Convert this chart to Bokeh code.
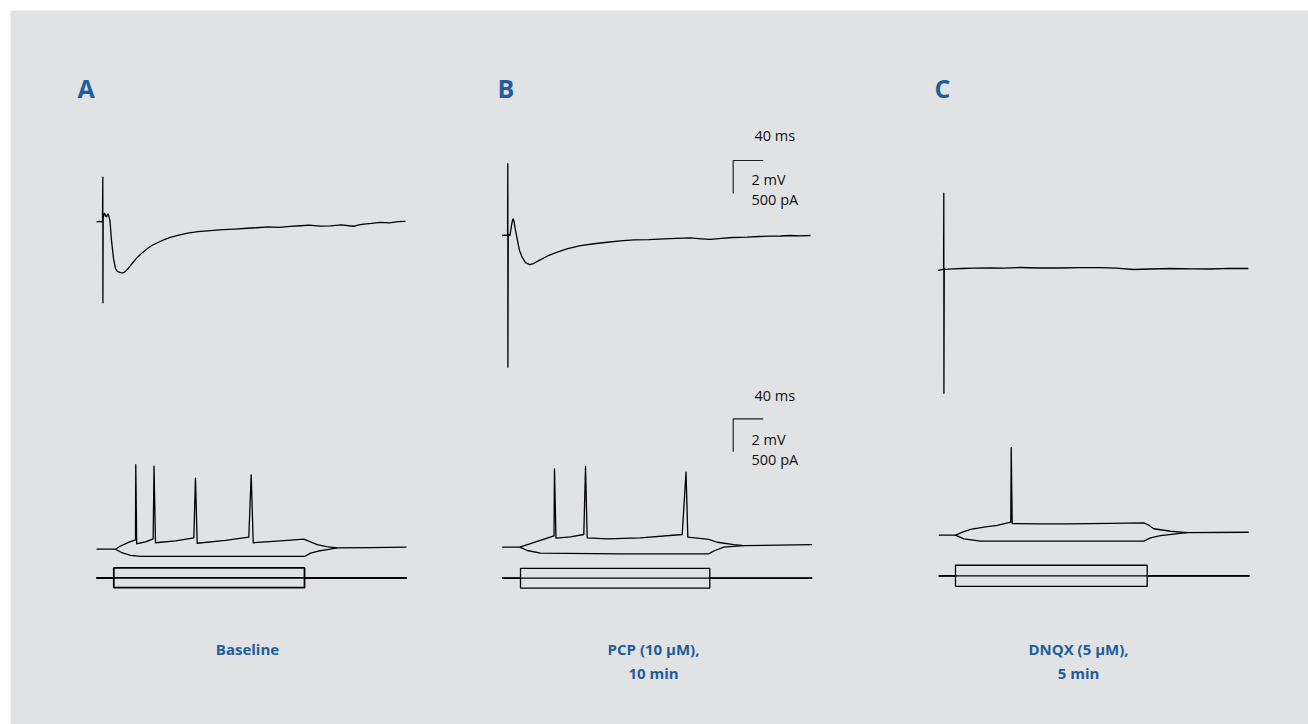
from bokeh.plotting import figure
from bokeh.models import Range1d
from bokeh.embed import file_html
from bokeh.resources import INLINE
from bokeh.core.properties import value

# ---------------- data (time in ms, potential in mV, current in pA) ----------------
# Evoked field responses (upper traces)
A_up_t = [-8.4, -4, -1.2, -0.4, 0.0, 0.15, 0.5, 1.5, 2.5, 3.8, 5.0, 6.2, 7.2, 8.3, 9.6, 11.6, 14.3, 16.9, 19.0, 20.9,
          23.5, 26.3, 28.5, 30.3, 33.5, 36.9, 41, 46, 52, 59.6, 66, 74.3, 82, 90, 100, 113, 127, 143.6, 160, 176,
          193, 205, 220, 235, 250, 263.6, 275, 290, 303.6, 318, 334, 345, 358, 370, 382, 394, 403.6]
A_up_v = [0.0, 0.03, 0.0, 0.0, 2.7, -4.9, 0.2, 0.45, 0.5, 0.35, 0.3, 0.45, 0.47, 0.3, 0.05, -1.13, -2.22, -2.83, -2.98, -3.04,
          -3.08, -3.1, -3.06, -3.0, -2.85, -2.65, -2.42, -2.16, -1.9, -1.62, -1.42, -1.24, -1.08, -0.95, -0.82, -0.69, -0.6, -0.53, -0.48, -0.44,
          -0.39, -0.36, -0.31, -0.34, -0.28, -0.24, -0.2, -0.26, -0.25, -0.19, -0.27, -0.15, -0.1, -0.04, -0.06, 0.01, 0.02]

B_up_t = [-7.5, -3, -0.8, -0.3, 0.0, 0.15, 0.6, 2.9, 4.9, 6.2, 7.2, 8.3, 9.6, 12.5, 15.6, 19.2, 23.6, 29.3, 34.3, 41.3,
          53, 65.9, 80, 96.9, 115, 132.5, 150, 167.6, 188, 208, 225, 243.6, 258, 270, 285, 300, 319, 335, 350, 363.6,
          376, 390, 403.6]
B_up_v = [0.0, 0.02, 0.0, 0.0, 4.35, -7.98, 0.1, 0.0, 0.6, 0.92, 1.01, 0.85, 0.48, -0.2, -0.91, -1.32, -1.64, -1.76, -1.7, -1.52,
          -1.24, -1.01, -0.8, -0.61, -0.5, -0.41, -0.33, -0.27, -0.25, -0.2, -0.17, -0.15, -0.2, -0.24, -0.17, -0.12, -0.1, -0.06, -0.04, -0.03,
          0.0, -0.02, 0.0]

C_up_t = [-8, -4, -1.7, -0.3, 0.0, 0.15, 0.6, 2, 12, 25, 40, 62, 80, 102, 125, 156, 180, 209, 230, 253,
          275, 302, 330, 356, 380, 406]
C_up_v = [-0.12, -0.08, -0.06, -0.04, 4.56, -7.56, 0.0, -0.05, -0.02, 0.0, 0.02, 0.03, 0.02, 0.06, 0.03, 0.03, 0.05, 0.05, 0.02, -0.06,
          -0.03, 0.0, -0.02, -0.03, 0.01, 0.0]

# Membrane responses to depolarizing (dep) and hyperpolarizing (hyp) current steps
A_dep_t = [-23.1, 2.3, 8.9, 19.6, 28.9, 29.3, 30.5, 42.3, 52.5, 53.6, 55.6, 82.3, 106.7, 108.9, 111.2, 148.9, 180, 183.2,
           185.9, 222.3, 253.3, 262.3, 271.2, 283.6, 297.9, 342.3, 390.3]
A_dep_v = [0, 0, 0.19, 0.41, 0.57, 5.13, 0.33, 0.44, 0.63, 5.03, 0.39, 0.5, 0.69, 4.3, 0.36, 0.53, 0.73, 4.51,
           0.39, 0.5, 0.61, 0.44, 0.28, 0.15, 0.08, 0.1, 0.12]
A_hyp_t = [2.3, 11.6, 22.3, 35.6, 142.3, 254.3, 262.3, 272.9, 284.5, 297.9]
A_hyp_v = [0, -0.23, -0.38, -0.44, -0.44, -0.44, -0.24, -0.11, -0.02, 0.08]

B_dep_t = [-24.4, -0.9, 9.3, 22.3, 44.7, 45.3, 47.3, 66.7, 84.4, 86.7, 88.9, 115.6, 160, 215.6, 220.7, 223.1, 251.1,
           262.3, 284.4, 297.7, 388.9]
B_dep_v = [0, 0, 0.16, 0.36, 0.68, 4.75, 0.55, 0.62, 0.77, 4.89, 0.57, 0.5, 0.57, 0.77, 4.55, 0.61, 0.47,
           0.3, 0.15, 0.1, 0.15]
B_hyp_t = [-0.9, 9, 26.7, 133.3, 251.1, 257.7, 271.1, 297.7]
B_hyp_v = [0, -0.2, -0.36, -0.4, -0.4, -0.23, 0, 0.1]

C_dep_t = [-22.3, 0, 9.3, 20, 40, 55.6, 73.7, 74.3, 75.6, 113.3, 149.3, 206.7, 251, 257.3, 264.4, 286.7, 308.9, 391]
C_dep_v = [0, 0, 0.19, 0.35, 0.5, 0.59, 0.79, 5.3, 0.71, 0.69, 0.69, 0.72, 0.75, 0.62, 0.39, 0.24, 0.15, 0.18]
C_hyp_t = [0, 11.1, 33.3, 251, 260, 273.3, 308.9]
C_hyp_v = [0, -0.22, -0.36, -0.36, -0.16, -0.02, 0.15]

# Injected current steps: [trace start, trace end] (ms), step duration (ms), step amplitude (pA)
A_cur_span = [-23.1, 390.3]
B_cur_span = [-24.4, 388.9]
C_cur_span = [-22.3, 392.0]
A_step_dur, B_step_dur, C_step_dur = 254.3, 252.4, 255.6
A_step_amp, B_step_amp, C_step_amp = 150, 150, 160

panel_letters = ["A", "B", "C"]
conditions = [["Baseline"], ["PCP (10 \u03bcM),", "10 min"], ["DNQX (5 \u03bcM),", "5 min"]]
scale_ms, scale_mv, scale_pa = 40, 2, 500
scale_texts = ["40 ms", "2 mV", "500 pA"]

# ---------------- layout / style ----------------
PX_MS = 0.75                 # px per ms
PX_MV = 16.5                 # px per mV
PX_PA = 33.0 / 500.0         # px per pA
BG = "#e1e2e4"
BLUE = "#1f5d9c"
FONT = "Open Sans"
LW = 1.3

p = figure(width=1308, height=724, x_range=Range1d(10, 1308), y_range=Range1d(724, 10),
           output_backend="svg", toolbar_location=None,
           x_axis_location=None, y_axis_location=None,
           min_border_left=10, min_border_top=10, min_border_right=0, min_border_bottom=0)
p.grid.visible = False
p.outline_line_color = None
p.background_fill_color = BG
p.border_fill_color = "white"


def draw_v(t, v, x0, y0, lw=LW):
    xs = [x0 + ti * PX_MS for ti in t]
    ys = [y0 - vi * PX_MV for vi in v]
    p.line(xs, ys, line_color="black", line_width=lw, line_join="round")


def draw_i(span, dur, amp, x0, y0, lw=LW):
    base_t = [span[0], span[1]]
    p.line([x0 + ti * PX_MS for ti in base_t], [y0, y0], line_color="black", line_width=lw)
    for a in (amp, -amp):
        t = [span[0], 0, 0, dur, dur, span[1]]
        i = [0, 0, a, a, 0, 0]
        p.line([x0 + ti * PX_MS for ti in t], [y0 - ii * PX_PA for ii in i],
               line_color="black", line_width=lw)


# panel anchors (page px): upper stim point, lower step onset, current baseline
up_anchor = [(102.3, 221.3), (507.3, 235.0), (943.3, 268.0)]
lo_anchor = [(113.3, 548.7), (520.0, 546.7), (955.0, 534.7)]
cur_y = [577.3, 577.7, 575.3]

ups = [(A_up_t, A_up_v), (B_up_t, B_up_v), (C_up_t, C_up_v)]
deps = [(A_dep_t, A_dep_v), (B_dep_t, B_dep_v), (C_dep_t, C_dep_v)]
hyps = [(A_hyp_t, A_hyp_v), (B_hyp_t, B_hyp_v), (C_hyp_t, C_hyp_v)]
curs = [(A_cur_span, A_step_dur, A_step_amp), (B_cur_span, B_step_dur, B_step_amp), (C_cur_span, C_step_dur, C_step_amp)]

for k in range(3):
    draw_v(*ups[k], *up_anchor[k])
    draw_v(*deps[k], *lo_anchor[k])
    draw_v(*hyps[k], *lo_anchor[k])
    span, dur, amp = curs[k]
    draw_i(span, dur, amp, lo_anchor[k][0], cur_y[k], lw=1.8 if k == 0 else LW)

# scale bars (panel B)
for (cx, cy), (tx, ty) in [((732.7, 160.0), (754, 135)), ((732.7, 418.3), (754, 395))]:
    p.line([cx + scale_ms * PX_MS, cx, cx], [cy, cy, cy + scale_mv * PX_MV], line_color="#222222", line_width=1.2)
    p.text(x=[tx, tx - 3, tx - 3], y=[ty, ty + 44, ty + 64], text=scale_texts,
           text_font=value(FONT), text_font_size="14.5px", text_color="#111111",
           text_baseline="middle", text_align="left")

# panel letters
p.text(x=[77, 497, 934], y=[87, 87, 87], text=panel_letters, text_font=value(FONT),
       text_font_style="bold", text_font_size="25px", text_color=BLUE,
       text_baseline="middle", text_align="left")

# condition labels
label_x = [247, 653, 1078]
for k in range(3):
    for j, line in enumerate(conditions[k]):
        p.text(x=[label_x[k]], y=[648 + j * 24], text=[line], text_font=value(FONT),
               text_font_style="bold", text_font_size="15px", text_color=BLUE,
               text_baseline="middle", text_align="center")

open("out.html", "w").write(file_html(p, INLINE))
